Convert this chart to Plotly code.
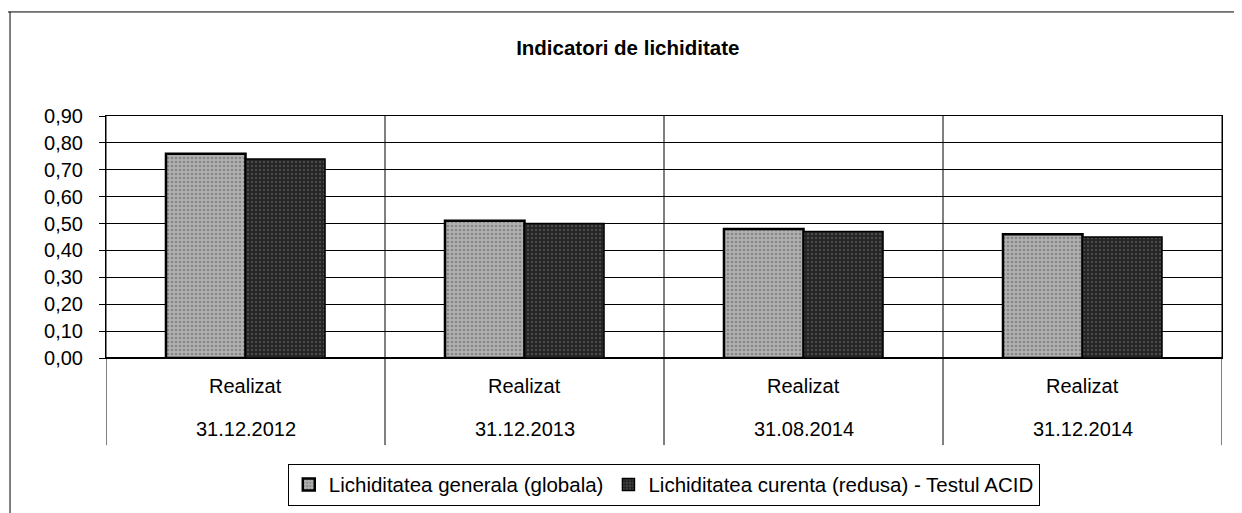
import plotly.graph_objects as go

categories = ["31.12.2012", "31.12.2013", "31.08.2014", "31.12.2014"]
row_label = "Realizat"
series_names = ["Lichiditatea generala (globala)", "Lichiditatea curenta (redusa) - Testul ACID"]
generala = [0.76, 0.51, 0.48, 0.46]
curenta = [0.74, 0.50, 0.47, 0.45]
y_ticks = [0.0, 0.1, 0.2, 0.3, 0.4, 0.5, 0.6, 0.7, 0.8, 0.9]

FONT = "Liberation Sans, Arial, sans-serif"
xs = list(range(len(categories)))

fig = go.Figure()
fig.add_trace(go.Bar(
    x=xs, y=generala, name=series_names[0],
    marker=dict(color="#a0a0a0", line=dict(color="black", width=2.5),
                pattern=dict(shape=".", fgcolor="#5c5c5c", bgcolor="#b0b0b0", size=4, solidity=0.35)),
))
fig.add_trace(go.Bar(
    x=xs, y=curenta, name=series_names[1],
    marker=dict(color="#303030", line=dict(color="black", width=1.5),
                pattern=dict(shape=".", fgcolor="#707070", bgcolor="#242424", size=4, solidity=0.3)),
))

shapes = []
# category divider lines extending below the plot
for i in range(len(categories) + 1):
    xv = i - 0.5
    shapes.append(dict(type="line", xref="x", yref="paper", x0=xv, x1=xv,
                       y0=-0.36, y1=1, line=dict(color="black", width=1)))
# outer chart frame (top and left)
shapes.append(dict(type="line", xref="paper", yref="paper", x0=-0.093, x1=1.03,
                   y0=1.43, y1=1.43, line=dict(color="black", width=1)))
shapes.append(dict(type="line", xref="paper", yref="paper", x0=-0.086, x1=-0.086,
                   y0=1.43, y1=-0.66, line=dict(color="black", width=1)))

annotations = []
for i, c in enumerate(categories):
    annotations.append(dict(x=i, y=-0.116, xref="x", yref="paper", text=row_label,
                            showarrow=False, xanchor="center", yanchor="middle",
                            font=dict(family=FONT, size=20, color="black")))
    annotations.append(dict(x=i, y=-0.293, xref="x", yref="paper", text=c,
                            showarrow=False, xanchor="center", yanchor="middle",
                            font=dict(family=FONT, size=20, color="black")))

fig.update_layout(
    width=1242, height=513,
    margin=dict(l=98, r=28, t=108, b=163, autoexpand=False),
    paper_bgcolor="white", plot_bgcolor="white",
    separators=",.",
    font=dict(family=FONT, size=20, color="black"),
    barmode="group", bargap=0.43, bargroupgap=0,
    title=dict(text="<b>Indicatori de lichiditate</b>", x=0.499, xref="container", xanchor="center",
               y=0.922, yref="container", yanchor="middle",
               font=dict(family=FONT, size=20.5, color="black")),
    showlegend=True,
    legend=dict(orientation="h", x=0.528, xref="container", xanchor="center",
                y=0.071, yref="container", yanchor="middle",
                bordercolor="black", borderwidth=1, bgcolor="white",
                font=dict(family=FONT, size=20.5, color="black"),
                itemwidth=30, tracegroupgap=0),
    shapes=shapes,
    annotations=annotations,
)
fig.update_xaxes(
    range=[-0.5, len(categories) - 0.5],
    showticklabels=False,
    showgrid=False, showline=True, linecolor="black", linewidth=1, mirror=True,
    ticks="",
)
fig.update_yaxes(
    range=[0, 0.9], tickmode="array", tickvals=y_ticks, tickformat=".2f",
    showgrid=True, gridcolor="black", gridwidth=1,
    showline=True, linecolor="black", linewidth=1, mirror=True,
    ticks="outside", ticklen=6, tickcolor="black", ticklabelstandoff=12,
    tickfont=dict(family=FONT, size=20, color="black"),
    zeroline=True, zerolinecolor="black", zerolinewidth=1.5,
)

fig.write_html("out.html")
